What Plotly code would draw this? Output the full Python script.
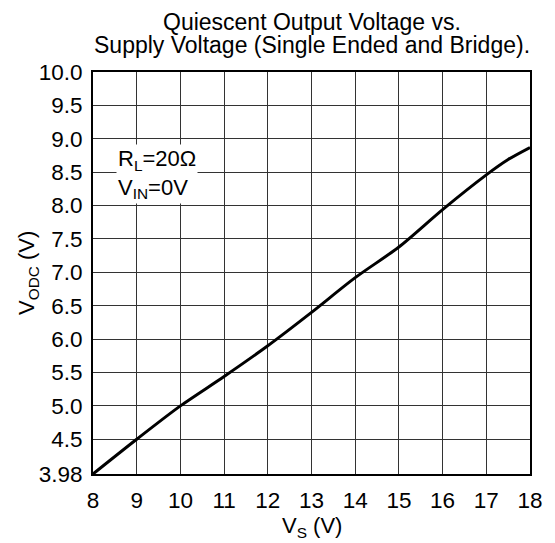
import plotly.graph_objects as go

vs = [8, 9, 10, 11, 12, 13, 14, 15, 16, 17, 17.5, 18]
vodc = [3.98, 4.5, 5.0, 5.44, 5.9, 6.40, 6.92, 7.38, 7.94, 8.46, 8.69, 8.87]

x_ticks = list(range(8, 19))
y_ticks = [3.98, 4.5, 5.0, 5.5, 6.0, 6.5, 7.0, 7.5, 8.0, 8.5, 9.0, 9.5, 10.0]
y_labels = ["3.98", "4.5", "5.0", "5.5", "6.0", "6.5", "7.0", "7.5", "8.0", "8.5", "9.0", "9.5", "10.0"]

FONT = "Liberation Sans, Arial, sans-serif"

fig = go.Figure()
fig.add_trace(go.Scatter(x=vs, y=vodc, mode="lines",
                         line=dict(color="black", width=3, shape="spline", smoothing=0.8),
                         showlegend=False, hoverinfo="skip"))

fig.update_layout(
    width=547, height=535,
    margin=dict(l=85, r=22, t=64, b=69),
    paper_bgcolor="white", plot_bgcolor="white",
    font=dict(family=FONT, size=22, color="black"),
)
fig.update_xaxes(range=[8, 18], tickvals=x_ticks, ticks="", showgrid=True,
                 gridcolor="#333", gridwidth=1, showline=True, linecolor="black",
                 linewidth=2, mirror=True, zeroline=False, ticklabelstandoff=5,
                 tickfont=dict(size=22.5))
fig.update_yaxes(range=[3.98, 10], tickvals=y_ticks, ticktext=y_labels, ticks="",
                 showgrid=True, gridcolor="#333", gridwidth=1, showline=True,
                 linecolor="black", linewidth=2, mirror=True, zeroline=False,
                 ticklabelstandoff=4, tickfont=dict(size=22.5))

# title lines
fig.add_annotation(x=0.5, y=1, xref="paper", yref="paper", yshift=50, yanchor="middle",
                   text="Quiescent Output Voltage vs.", showarrow=False,
                   font=dict(family=FONT, size=23, color="black"))
fig.add_annotation(x=0.5, y=1, xref="paper", yref="paper", yshift=27, yanchor="middle",
                   text="Supply Voltage (Single Ended and Bridge).", showarrow=False,
                   font=dict(family=FONT, size=23, color="black"))
# axis titles
fig.add_annotation(x=0.5, y=0, xref="paper", yref="paper", yshift=-53, yanchor="middle",
                   text="V<sub>S</sub> (V)", showarrow=False,
                   font=dict(family=FONT, size=22, color="black"))
fig.add_annotation(x=0, y=0.5, xref="paper", yref="paper", xshift=-65, xanchor="center",
                   yanchor="middle", textangle=-90,
                   text="V<sub>ODC</sub> (V)", showarrow=False,
                   font=dict(family=FONT, size=22, color="black"))

fig.add_annotation(x=8.52, y=8.48, xref="x", yref="y", xanchor="left", yanchor="middle",
                   text="R<sub>L</sub>=20Ω<br>V<sub>IN</sub>=0V", showarrow=False,
                   align="left", bgcolor="white", borderpad=1,
                   font=dict(family=FONT, size=22, color="black"))

fig.write_html("out.html")
